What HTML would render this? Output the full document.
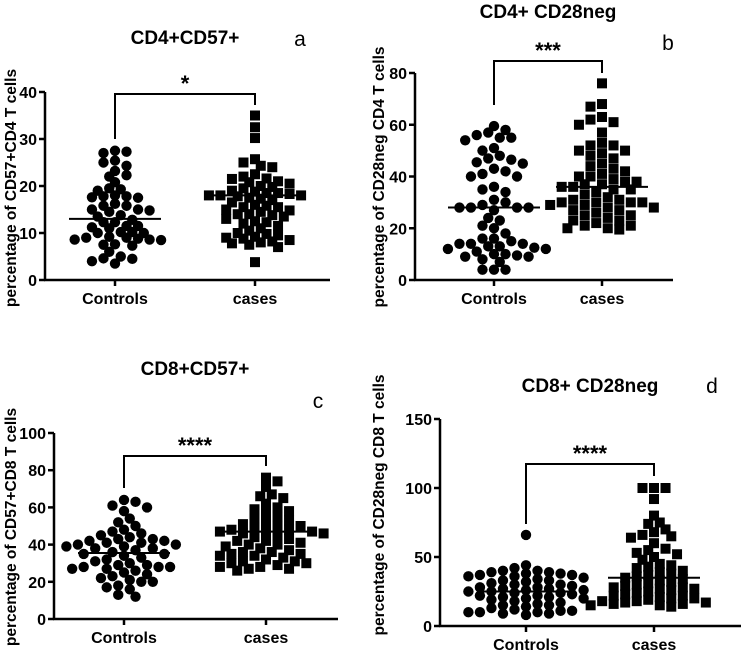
<!DOCTYPE html>
<html><head><meta charset="utf-8"><style>
html,body{margin:0;padding:0;background:#fff;}
svg{display:block;font-family:"Liberation Sans",Arial,sans-serif;}
</style></head><body>
<svg id="fig" width="744" height="669" viewBox="0 0 744 669"></svg>
<script>
const categories = ["Controls","cases"];
const aControls = [27.5,27,27.3,25,24.3,25.4,23.2,22,22.3,20.8,19.3,19.5,19,17.8,18,17.8,17.5,17.6,16.2,15,15.8,14.5,15.8,15,13.8,12.8,12.3,11.5,11.2,11,11.5,10.2,10.2,10,10,9.2,9,9,8.8,8.6,8.5,8.6,7.3,7.5,7.6,6,5,4.5,4.6,4,3.5,12.3,13.5,14.8];
const aCases = [35,32.5,30.2,25.7,25,24,24.3,22.5,22,21.6,21.5,21,20.8,20.5,20,19.8,19.5,19,18.8,18.5,18.5,18.3,18,18,18,17.8,17.5,17.3,17,16.5,16,15.8,15.5,15.5,15,14.8,14.5,14,14,13.8,13.5,13,12.5,12.3,12,11.5,11,10.5,10,9.8,9.5,9.2,9,8.8,8.5,8.2,8,7.8,7.5,7,3.8];
const aLines = [13,18];
const aTicks = [0,10,20,30,40];
const bControls = [59.5,58,57,56,55,55,54,51,50,48,47,46.5,45.5,45,43,42,41,40,40,36,35,34,31,30,29,28,28,28,28,27,24,23,21,20,18,16,16,15,14,14,14,13,13,12.5,12,12,11,10,10,9.5,9,9,8,7,4,4,4];
const bCases = [76,68,67,63,62,61,60,57,53,52,52,50,50,49,48,47,45,44,43,42,41,40,40,39,38,38,37,37,36,36,35,35,34,33,32,31,31,30,30,30,30,29,29,28,28,27,27,26,25,25,24,23,23,22,21,21,20,20,19.5];
const bLines = [28,36];
const bTicks = [0,20,40,60,80];
const cControls = [64,63,61,60,58,54,52,50,48,47,46,45,44,43,43,42,42,41,41,40,40,39,39,38,38,37,36,35,35,34,33,32,31,30,29,29,28,28,28,27,27,26,25,24,23,22,21,20,20,18,17,16,13,12];
const cCases = [76,74,71,67,66,65,62,60,59,58,57,55,54,53,52,51,50,50,49,48,48,47,47,47,46,46,45,44,43,42,42,41,40,40,39,38,37,36,36,35,35,34,34,33,32,31,31,30,30,29,28,28,27,27,26];
const cLines = [35.5,47];
const cTicks = [0,20,40,60,80,100];
const dControls = [66,44,42,40,40,39,39,38,38,37,37,36,36,35,34,33,33,32,31,30,30,29,28,28,27,27,26,26,25,25,24,24,23,22,22,21,21,20,20,19,18,17,16,15,15,14,13,12,11,11,10,10,10,9,9,8];
const dCases = [100,100,100,92,80,75,74,70,68,66,65,64,60,56,55,53,52,50,48,45,44,43,42,40,39,38,37,36,35,34,33,32,31,30,29,28,28,27,27,26,25,24,23,22,22,21,20,20,19,18,18,17,17,16,16,15,15,14];
const dLines = [25,35];
const dTicks = [0,50,100,150];

const NS="http://www.w3.org/2000/svg";
const svg=document.getElementById('fig');
function mk(tag,attrs,parent,text){const e=document.createElementNS(NS,tag);for(const k in attrs)e.setAttribute(k,attrs[k]);if(text!==undefined)e.textContent=text;(parent||svg).appendChild(e);return e;}

function swarm(vals,yf){
  const placed=[];const D=9.6;const out=[];
  const sorted=vals.map((v,i)=>({v,i})).sort((a,b)=>b.v-a.v);
  let flip=1;
  for(const p of sorted){
    const y=yf(p.v);let k=0,x=0;
    flip=-flip;
    while(true){
      const s=k*D*0.6;
      const cands=k===0?[0]:[flip*s,-flip*s];
      let ok=null;
      for(const c of cands){if(placed.every(q=>(q.x-c)**2+(q.y-y)**2>=D*D*0.7)){ok=c;break;}}
      if(ok!==null){x=ok;break;}k++;
    }
    placed.push({x,y});out.push({v:p.v,x,y});
  }
  return out;
}

function panel(cfg){
  const g=mk('g',{});
  
  
  const yf=v=>cfg.y0-(v-cfg.ymin)/(cfg.ymax-cfg.ymin)*(cfg.y0-cfg.ytop);
  const xs=[cfg.cx0,cfg.cx1];
  const t=mk('text',{x:cfg.tx,y:cfg.ty,'text-anchor':'middle','font-size':19,'font-weight':'bold'},g,cfg.title);
  
  const l=mk('text',{x:cfg.lx,y:cfg.ly,'text-anchor':'middle','font-size':21},g,cfg.id);
  
  const ya=mk('line',{x1:cfg.ax,y1:cfg.ytop,x2:cfg.ax,y2:cfg.y0+1,stroke:'#000','stroke-width':2.5},g);
  
  const xa=mk('line',{x1:cfg.ax-1,y1:cfg.y0,x2:cfg.axEnd,y2:cfg.y0,stroke:'#000','stroke-width':2.5},g);
  
  cfg.ticks.forEach(tv=>{
    const y=yf(tv);
    mk('line',{x1:cfg.ax-6,y1:y,x2:cfg.ax,y2:y,stroke:'#000','stroke-width':2.5},g);
    const tl=mk('text',{x:cfg.ax-8,y:y+6,'text-anchor':'end','font-size':16,'font-weight':'bold'},g,tv);
    
  });
  categories.forEach((c,i)=>{
    mk('line',{x1:xs[i],y1:cfg.y0,x2:xs[i],y2:cfg.y0+6,stroke:'#000','stroke-width':2.5},g);
    const cl=mk('text',{x:xs[i],y:cfg.y0+24,'text-anchor':'middle','font-size':16,'font-weight':'bold'},g,c);
    
  });
  const yl=mk('text',{transform:`translate(${cfg.ylx},${cfg.yly}) rotate(-90)`,'text-anchor':'middle','font-size':15.5,'font-weight':'bold'},g,cfg.ylabel);
  
  const br=mk('path',{d:`M${xs[0]},${cfg.bl} V${cfg.bt} H${xs[1]} V${cfg.br}`,fill:'none',stroke:'#000','stroke-width':2},g);
  
  const st=mk('text',{x:(xs[0]+xs[1])/2,y:cfg.bt-3,'text-anchor':'middle','font-size':22,'font-weight':'bold'},g,cfg.stars);
  
  [cfg.controls,cfg.cases].forEach((vals,gi)=>{
    swarm(vals,yf).forEach(p=>{
      let e;
      if(gi===0){e=mk('circle',{cx:xs[0]+p.x,cy:p.y,r:5.2,fill:'#000'},g);
        }
      else{e=mk('rect',{x:xs[1]+p.x-5,y:p.y-5,width:10,height:10,fill:'#000'},g);
        }
      
    });
    const y=yf(cfg.lines[gi]);
    const ml=mk('line',{x1:xs[gi]-46,y1:y,x2:xs[gi]+46,y2:y,stroke:'#000','stroke-width':2},g);
    
  });
}

panel({id:'a',title:'CD4+CD57+',tx:185,ty:44,lx:300,ly:46,ax:45,axEnd:330,y0:280,ytop:92,ymin:0,ymax:40,ticks:aTicks,
  cx0:115,cx1:255,bt:94,bl:139,br:105,stars:'*',ylx:16,yly:188,ylabel:'percentage of CD57+CD4 T cells',
  controls:aControls,cases:aCases,lines:aLines});
panel({id:'b',title:'CD4+ CD28neg',tx:548,ty:18,lx:668,ly:50,ax:415,axEnd:673,y0:280,ytop:73,ymin:0,ymax:80,ticks:bTicks,
  cx0:494,cx1:602,bt:61,bl:105,br:73,stars:'***',ylx:384,yly:177,ylabel:'percentage of CD28neg CD4 T cells',
  controls:bControls,cases:bCases,lines:bLines});
panel({id:'c',title:'CD8+CD57+',tx:195,ty:375,lx:318,ly:408,ax:54,axEnd:338,y0:619,ytop:433,ymin:0,ymax:100,ticks:cTicks,
  cx0:124,cx1:266,bt:456,bl:488,br:466,stars:'****',ylx:16,yly:527,ylabel:'percentage of CD57+CD8 T cells',
  controls:cControls,cases:cCases,lines:cLines});
panel({id:'d',title:'CD8+ CD28neg',tx:590,ty:392,lx:712,ly:393,ax:440,axEnd:741,y0:626,ytop:419,ymin:0,ymax:150,ticks:dTicks,
  cx0:526,cx1:654,bt:464,bl:524,br:476,stars:'****',ylx:384,yly:505,ylabel:'percentage of CD28neg CD8 T cells',
  controls:dControls,cases:dCases,lines:dLines});
</script>
</body></html>
